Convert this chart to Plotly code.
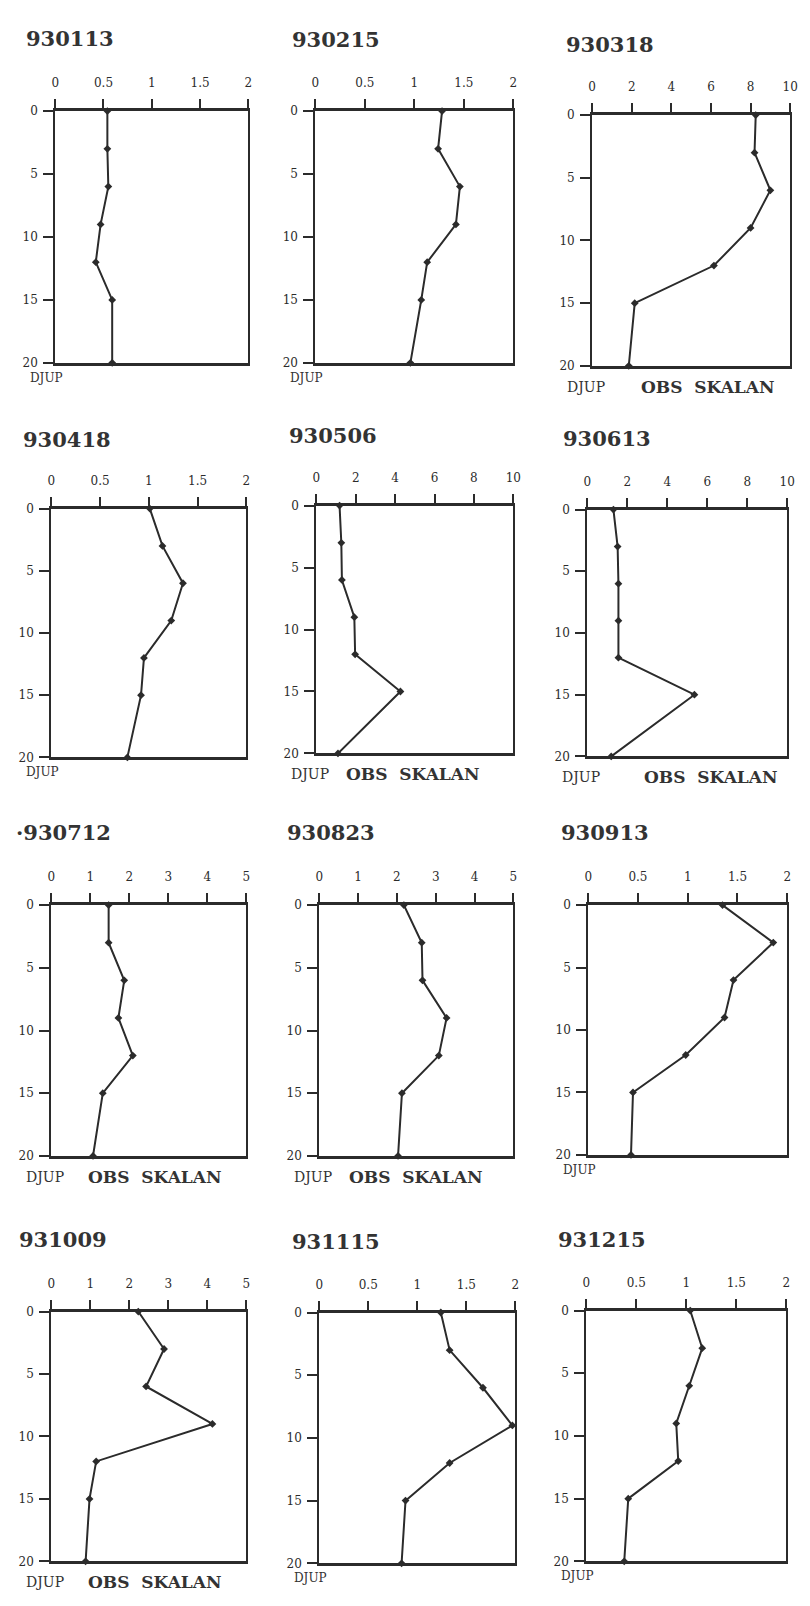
import plotly.graph_objects as go

# Sampling depths (m) shared by every profile
depths = [0, 3, 6, 9, 12, 15, 20]

# Station dates (YYMMDD) and measured profiles
dates = ["930113", "930215", "930318",
         "930418", "930506", "930613",
         "·930712", "930823", "930913",
         "931009", "931115", "931215"]

p930113 = [0.54, 0.54, 0.55, 0.47, 0.42, 0.59, 0.59]
p930215 = [1.28, 1.24, 1.46, 1.42, 1.13, 1.07, 0.96]
p930318 = [8.26, 8.20, 9.00, 8.00, 6.15, 2.15, 1.85]
p930418 = [1.01, 1.14, 1.35, 1.23, 0.95, 0.92, 0.78]
p930506 = [1.18, 1.27, 1.30, 1.93, 1.97, 4.27, 1.10]
p930613 = [1.31, 1.52, 1.56, 1.56, 1.56, 5.36, 1.20]
p930712 = [1.47, 1.47, 1.87, 1.72, 2.09, 1.32, 1.07]
p930823 = [2.18, 2.64, 2.66, 3.28, 3.08, 2.13, 2.03]
p930913 = [1.35, 1.86, 1.46, 1.37, 0.98, 0.45, 0.43]
p931009 = [2.23, 2.89, 2.43, 4.13, 1.15, 0.98, 0.88]
p931115 = [1.24, 1.33, 1.67, 1.97, 1.33, 0.88, 0.84]
p931215 = [1.04, 1.16, 1.03, 0.90, 0.92, 0.42, 0.38]

profiles = [p930113, p930215, p930318, p930418, p930506, p930613,
            p930712, p930823, p930913, p931009, p931115, p931215]

# Horizontal scale of each panel and its tick labels
scale_max = [2, 2, 10, 2, 10, 10, 5, 5, 2, 5, 2, 2]
ticks_by_scale = {
    2: ["0", "0.5", "1", "1.5", "2"],
    5: ["0", "1", "2", "3", "4", "5"],
    10: ["0", "2", "4", "6", "8", "10"],
}
depth_ticks = ["0", "5", "10", "15", "20"]

# Panels drawn on a changed scale carry the "OBS SKALAN" note
changed_scale = [False, False, True, False, True, True,
                 True, True, False, True, False, False]

W, H = 810, 1606
# Plot boxes in pixels: left, right, top, bottom
boxes = [
    (52, 248, 105, 359), (316, 517, 105, 359), (597, 798, 109, 362),
    (48, 246, 506, 757), (317, 517, 503, 753), (592, 795, 507, 756),
    (48, 246, 906, 1159), (320, 517, 906, 1159), (593, 795, 906, 1158),
    (48, 246, 1316, 1568), (320, 519, 1317, 1570), (591, 794, 1315, 1568),
]
title_pos = [
    (20, 32), (290, 33), (568, 38),
    (17, 436), (287, 432), (565, 435),
    (10, 833), (285, 833), (563, 833),
    (13, 1243), (290, 1245), (560, 1243),
]
obs_x = [0, 0, 645, 0, 345, 648, 83, 348, 0, 83, 0, 0]

INK = "#2b2b2b"
SERIF = "DejaVu Serif, Liberation Serif, serif"

fig = go.Figure()
layout = dict(
    width=W, height=H,
    margin=dict(l=0, r=0, t=0, b=0),
    paper_bgcolor="white", plot_bgcolor="white",
    showlegend=False,
    font=dict(family=SERIF, color=INK),
)
annotations = []


def px(x):
    return x / W


def py(y):
    return 1 - y / H


for i, (vals, box) in enumerate(zip(profiles, boxes)):
    n = i + 1
    sfx = "" if n == 1 else str(n)
    l, r, t, b = box
    labels = ticks_by_scale[scale_max[i]]
    tickvals = [float(s) for s in labels]

    fig.add_trace(go.Scatter(
        x=vals, y=depths,
        xaxis="x" + sfx, yaxis="y" + sfx,
        mode="lines+markers",
        line=dict(color=INK, width=2),
        marker=dict(symbol="diamond", size=6, color=INK),
        cliponaxis=False,
        hoverinfo="x+y",
    ))

    layout["xaxis" + sfx] = dict(
        domain=[px(l), px(r)], anchor="y" + sfx, side="top",
        range=[0, scale_max[i]], tickvals=tickvals, ticktext=labels,
        showline=True, linewidth=3, linecolor=INK, mirror=True,
        ticks="outside", ticklen=9, tickwidth=2, tickcolor=INK,
        ticklabelstandoff=7,
        tickfont=dict(family=SERIF, size=12, color=INK),
        showgrid=False, zeroline=False,
    )
    layout["yaxis" + sfx] = dict(
        domain=[py(b), py(t)], anchor="x" + sfx,
        range=[20, 0], tickvals=[0, 5, 10, 15, 20], ticktext=depth_ticks,
        showline=True, linewidth=2, linecolor=INK, mirror=True,
        ticks="outside", ticklen=10, tickwidth=2, tickcolor=INK,
        ticklabelstandoff=3,
        tickfont=dict(family=SERIF, size=12, color=INK),
        showgrid=False, zeroline=False,
    )

    tx, ty = title_pos[i]
    annotations.append(dict(
        text="<b>%s</b>" % dates[i], x=px(tx), y=py(ty),
        xref="paper", yref="paper", xanchor="left", yanchor="middle",
        showarrow=False, font=dict(family=SERIF, size=21, color="#333"),
    ))

    djup_y = b + (21 if changed_scale[i] else 15)
    annotations.append(dict(
        text="DJUP", x=px(l - 28), y=py(djup_y),
        xref="paper", yref="paper", xanchor="left", yanchor="middle",
        showarrow=False,
        font=dict(family=SERIF, size=14 if changed_scale[i] else 12, color="#333"),
    ))
    if changed_scale[i]:
        annotations.append(dict(
            text="<b>OBS  SKALAN</b>", x=px(obs_x[i]), y=py(djup_y),
            xref="paper", yref="paper", xanchor="left", yanchor="middle",
            showarrow=False, font=dict(family=SERIF, size=17, color="#333"),
        ))

layout["annotations"] = annotations
fig.update_layout(**layout)
fig.write_html("out.html")
